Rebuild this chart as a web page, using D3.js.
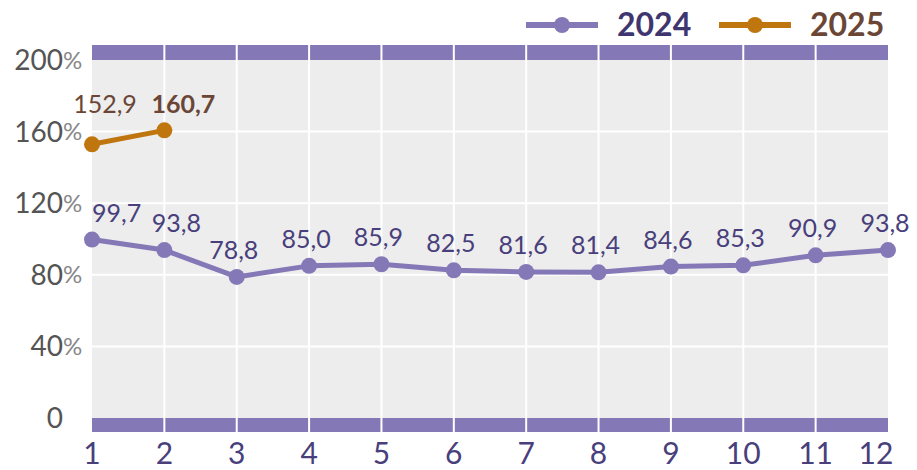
<!DOCTYPE html>
<html>
<head>
<meta charset="utf-8">
<script src="https://cdn.jsdelivr.net/npm/d3@7"></script>
<style>
  body { margin: 0; background: #fff; }
  text { font-family: Lato, "Open Sans", sans-serif; }
</style>
</head>
<body>
<svg id="chart" width="917" height="470"></svg>
<script>
var months = [1, 2, 3, 4, 5, 6, 7, 8, 9, 10, 11, 12];
var values2024 = [99.7, 93.8, 78.8, 85.0, 85.9, 82.5, 81.6, 81.4, 84.6, 85.3, 90.9, 93.8];
var values2025 = [152.9, 160.7];
var yTicks = [0, 40, 80, 120, 160, 200];

var purple = "#8479b6",
    orange = "#c0760e",
    purpleText = "#483f7c",
    brownText = "#6b4636";

var svg = d3.select("#chart");

var x = d3.scaleLinear().domain([1, 12]).range([92, 888]);
var y = d3.scaleLinear().domain([0, 200]).range([418, 60]);

var fmt = d => d3.format(".1f")(d).replace(".", ",");

// plot background
svg.append("rect")
   .attr("x", x(1))
   .attr("y", y(200))
   .attr("width", x(12) - x(1))
   .attr("height", y(0) - y(200))
   .attr("fill", "#ededed");

// top and bottom bands
svg.append("rect")
   .attr("x", x(1)).attr("y", y(200) - 15)
   .attr("width", x(12) - x(1)).attr("height", 15)
   .attr("fill", purple);
svg.append("rect")
   .attr("x", x(1)).attr("y", y(0))
   .attr("width", x(12) - x(1)).attr("height", 14)
   .attr("fill", purple);

// grid
svg.selectAll(".hgrid")
   .data(yTicks.filter(t => t > 0 && t < 200))
   .enter()
   .append("line")
   .attr("x1", x(1)).attr("x2", x(12))
   .attr("y1", d => y(d)).attr("y2", d => y(d))
   .attr("stroke", "#fff").attr("stroke-width", 2);

svg.selectAll(".vgrid")
   .data(months.slice(1, 11))
   .enter()
   .append("line")
   .attr("x1", d => x(d)).attr("x2", d => x(d))
   .attr("y1", y(200) - 15).attr("y2", y(0) + 14)
   .attr("stroke", "#fff").attr("stroke-width", 2);

// y tick labels
var yt = svg.selectAll(".ytick")
            .data(yTicks)
            .enter()
            .append("g");
yt.append("text")
  .attr("x", 63)
  .attr("y", d => y(d))
  .attr("dy", "0.36em")
  .attr("text-anchor", "end")
  .attr("font-size", 28)
  .attr("fill", "#555")
  .text(d => d);
yt.filter(d => d > 0)
  .append("text")
  .attr("x", 63)
  .attr("y", d => y(d))
  .attr("dy", "0.36em")
  .attr("font-size", 24)
  .attr("fill", "#888")
  .text("%");

// x tick labels
svg.selectAll(".xtick")
   .data(months)
   .enter()
   .append("text")
   .attr("x", d => d === 12 ? x(d) - 12 : x(d))
   .attr("y", 464)
   .attr("text-anchor", "middle")
   .attr("font-size", 30)
   .attr("fill", purpleText)
   .text(d => d);

var line = d3.line()
             .x((d, i) => x(months[i]))
             .y(d => y(d));

// 2024
svg.append("path")
   .datum(values2024)
   .attr("d", line)
   .attr("fill", "none")
   .attr("stroke", purple)
   .attr("stroke-width", 5)
   .attr("stroke-linejoin", "round");
svg.selectAll(".p24")
   .data(values2024)
   .enter()
   .append("circle")
   .attr("cx", (d, i) => x(months[i]))
   .attr("cy", d => y(d))
   .attr("r", 8)
   .attr("fill", purple);
svg.selectAll(".l24")
   .data(values2024)
   .enter()
   .append("text")
   .attr("x", (d, i) => i === 0 ? x(months[i]) : i === 1 ? x(months[i]) + 12 : x(months[i]) - 3)
   .attr("y", d => y(d) - 18)
   .attr("text-anchor", (d, i) => i === 0 ? "start" : "middle")
   .attr("font-size", 25)
   .attr("fill", purpleText)
   .text(d => fmt(d));

// 2025
svg.append("path")
   .datum(values2025)
   .attr("d", line)
   .attr("fill", "none")
   .attr("stroke", orange)
   .attr("stroke-width", 5);
svg.selectAll(".p25")
   .data(values2025)
   .enter()
   .append("circle")
   .attr("cx", (d, i) => x(months[i]))
   .attr("cy", d => y(d))
   .attr("r", 8)
   .attr("fill", orange);
svg.selectAll(".l25")
   .data(values2025)
   .enter()
   .append("text")
   .attr("x", (d, i) => x(months[i]) + (i === 0 ? 13 : 19))
   .attr("y", y(d3.max(values2025)) - 17)
   .attr("text-anchor", "middle")
   .attr("font-size", 25)
   .attr("font-weight", (d, i) => i === values2025.length - 1 ? "bold" : "normal")
   .attr("fill", brownText)
   .text(d => fmt(d));

// legend
var legend = [
    {name: "2024", color: purple, text: "#3f3670", x: 526},
    {name: "2025", color: orange, text: brownText, x: 719}
];
var lg = svg.selectAll(".legend")
            .data(legend)
            .enter()
            .append("g")
            .attr("transform", d => "translate(" + d.x + ",25)");
lg.append("line")
  .attr("x1", 0).attr("x2", 72)
  .attr("stroke", d => d.color)
  .attr("stroke-width", 6);
lg.append("circle")
  .attr("cx", 36).attr("r", 8)
  .attr("fill", d => d.color);
lg.append("text")
  .attr("x", 91).attr("y", 11)
  .attr("font-size", 32)
  .attr("font-weight", "bold")
  .attr("fill", d => d.text)
  .text(d => d.name);
</script>
</body>
</html>
